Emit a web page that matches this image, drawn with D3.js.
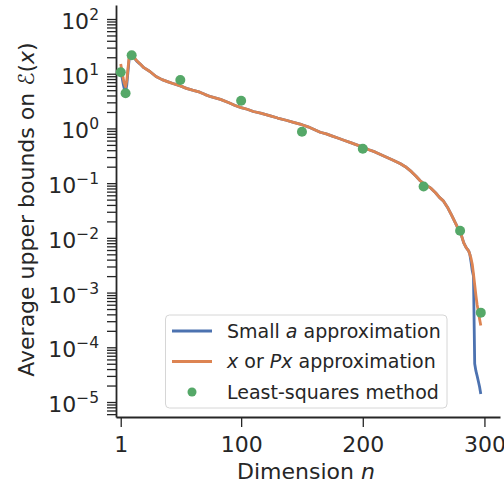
<!DOCTYPE html>
<html>
<head>
<meta charset="utf-8">
<script src="https://cdn.jsdelivr.net/npm/d3@7"></script>
<style>
  body { margin: 0; background: #fff; }
  svg { display: block; font-family: 'DejaVu Sans', sans-serif; }
</style>
</head>
<body>
<main></main>
<script>
// dimensions n where the two approximations were read off
const dims = [1, 2, 3, 4, 5, 6, 7, 8, 9, 10, 12, 14, 17, 20, 25, 30, 35, 40, 45, 50,
  55, 60, 66, 70, 75, 83, 90, 95, 100, 105, 110, 116, 124, 130, 137, 143, 150, 155, 160, 165,
  170, 175, 180, 185, 190, 195, 200, 205, 210, 215, 220, 225, 231, 235, 240, 244, 247, 250, 253, 256,
  260, 263, 266, 270, 273, 276, 279, 281, 283, 285, 287, 288, 289, 290, 291, 292, 293, 294, 295, 296, 297];

const smallA = [12.0, 8.9, 6.6, 5.2, 4.7, 6.3, 11.2, 19.1, 21.4, 20.9, 19.5, 17.2, 15.0, 12.9, 11.0, 8.9, 7.8, 7.1, 6.5, 6.0,
  5.4, 5.0, 4.6, 4.2, 3.8, 3.4, 2.95, 2.63, 2.40, 2.24, 2.04, 1.91, 1.70, 1.55, 1.41, 1.29, 1.17, 1.07, 0.955, 0.851,
  0.794, 0.724, 0.661, 0.603, 0.550, 0.501, 0.457, 0.407, 0.372, 0.331, 0.295, 0.263, 0.226, 0.200, 0.162, 0.132, 0.112, 0.098, 0.089, 0.081,
  0.066, 0.055, 0.048, 0.035, 0.026, 0.019, 0.0138, 0.0112, 0.0081, 0.0066, 0.0058, 0.0050, 0.0036, 0.0025, 0.0020, 5.0e-5, 3.7e-5, 3.0e-5, 2.4e-5, 1.9e-5, 1.4e-5];

const xOrPx = [15.1, 11.2, 8.3, 6.6, 5.8, 7.6, 12.6, 20.9, 23.4, 22.4, 20.0, 17.4, 15.1, 12.9, 11.0, 8.9, 7.8, 7.1, 6.5, 6.0,
  5.4, 5.0, 4.6, 4.2, 3.8, 3.4, 2.95, 2.63, 2.40, 2.24, 2.04, 1.91, 1.70, 1.55, 1.41, 1.29, 1.17, 1.07, 0.955, 0.851,
  0.794, 0.724, 0.661, 0.603, 0.550, 0.501, 0.457, 0.407, 0.372, 0.331, 0.295, 0.263, 0.226, 0.200, 0.162, 0.132, 0.112, 0.098, 0.089, 0.081,
  0.066, 0.055, 0.048, 0.035, 0.026, 0.019, 0.0138, 0.0112, 0.0081, 0.0066, 0.0058, 0.0050, 0.0042, 0.0033, 0.0022, 0.0014, 8.9e-4, 6.0e-4, 4.5e-4, 3.3e-4, 2.5e-4];

// least-squares reference points
const lsDims = [1, 5, 10, 50, 100, 150, 200, 250, 280, 297];
const lsValues = [10.6, 4.4, 21.8, 7.7, 3.2, 0.87, 0.425, 0.087, 0.0135, 4.3e-4];

const xTicks = [1, 100, 200, 300];
const yMajor = [-5, -4, -3, -2, -1, 0, 1, 2];

const seriesNames = ['Small a approximation', 'x or Px approximation', 'Least-squares method'];
const colors = ['#4C72B0', '#DD8452', '#55A868'];

const W = 504, H = 487;
const plotLeft = 116, plotRight = 500, plotTop = 5, plotBottom = 417;
const textColor = '#262626';

const x = d3.scaleLinear()
  .domain([-2.88, 312.8])
  .range([plotLeft, plotRight]);

const y = d3.scaleLog()
  .domain([Math.pow(10, -5.274), Math.pow(10, 2.256)])
  .range([plotBottom, plotTop]);

const svg = d3.select('main')
  .append('svg')
  .attr('width', W)
  .attr('height', H);

// minor + major y ticks
const yTickVals = [];
for (let e = -6; e <= 2; e++) {
  for (let k = 1; k <= 9; k++) {
    const v = k * Math.pow(10, e);
    if (v >= y.domain()[0] && v <= y.domain()[1]) yTickVals.push(v);
  }
}

const yAxis = d3.axisLeft(y)
  .tickValues(yTickVals)
  .tickSize(9)
  .tickSizeOuter(0)
  .tickPadding(8)
  .tickFormat(() => '');

const gy = svg.append('g')
  .attr('transform', `translate(${plotLeft},0)`)
  .call(yAxis);

gy.select('.domain').attr('stroke', textColor).attr('stroke-width', 1.8);
gy.selectAll('.tick line').attr('stroke', textColor).attr('stroke-width', 1.3);
gy.selectAll('.tick text').remove();

// y tick labels with exponents
const yLabels = svg.append('g')
  .selectAll('text')
  .data(yMajor)
  .enter()
  .append('text')
  .attr('x', 99)
  .attr('y', d => y(Math.pow(10, d)) + 10)
  .attr('text-anchor', 'end')
  .style('font-size', '22px')
  .style('fill', textColor);

yLabels.append('tspan').text('10');
yLabels.append('tspan')
  .attr('dy', -9)
  .style('font-size', '15.5px')
  .text(d => d < 0 ? '\u2212' + Math.abs(d) : String(d));

// x axis
const xAxis = d3.axisBottom(x)
  .tickValues(xTicks)
  .tickSize(10)
  .tickSizeOuter(0)
  .tickPadding(5);

const gx = svg.append('g')
  .attr('transform', `translate(0,${plotBottom})`)
  .call(xAxis);

gx.select('.domain').attr('stroke', textColor).attr('stroke-width', 1.8);
gx.selectAll('.tick line').attr('stroke', textColor).attr('stroke-width', 1.3);
gx.selectAll('.tick text')
  .attr('y', 35)
  .attr('dy', 0)
  .style('font-size', '22px')
  .style('font-family', "'DejaVu Sans', sans-serif")
  .style('fill', textColor);

// axis titles
svg.append('text')
  .attr('x', 306)
  .attr('y', 479)
  .attr('text-anchor', 'middle')
  .style('font-size', '22px')
  .style('fill', textColor)
  .call(t => {
    t.append('tspan').text('Dimension ');
    t.append('tspan').style('font-style', 'italic').text('n');
  });

svg.append('text')
  .attr('transform', 'translate(34,209.5) rotate(-90)')
  .attr('text-anchor', 'middle')
  .style('font-size', '22px')
  .style('fill', textColor)
  .call(t => {
    t.append('tspan').text('Average upper bounds on \u2130(');
    t.append('tspan').style('font-style', 'italic').text('x');
    t.append('tspan').text(')');
  });

// lines
const line = d3.line()
  .x(d => x(d[0]))
  .y(d => y(d[1]));

[smallA, xOrPx].forEach((vals, i) => {
  svg.append('path')
    .datum(dims.map((n, j) => [n, vals[j]]))
    .attr('d', line)
    .attr('fill', 'none')
    .attr('stroke', colors[i])
    .attr('stroke-width', 2.8)
    .attr('stroke-linejoin', 'round');
});

// least-squares points
svg.append('g')
  .selectAll('circle')
  .data(lsDims.map((n, j) => [n, lsValues[j]]))
  .enter()
  .append('circle')
  .attr('cx', d => x(d[0]))
  .attr('cy', d => y(d[1]))
  .attr('r', 5)
  .attr('fill', colors[2]);

// legend
const legend = svg.append('g')
  .attr('transform', 'translate(165.5,315)');

legend.append('rect')
  .attr('width', 281.5)
  .attr('height', 93)
  .attr('rx', 4)
  .attr('fill', 'white')
  .attr('fill-opacity', 0.8)
  .attr('stroke', '#d6d6d6')
  .attr('stroke-width', 1);

const rows = legend.selectAll('.row')
  .data(seriesNames)
  .enter()
  .append('g')
  .attr('class', 'row')
  .attr('transform', (d, i) => `translate(0,${16 + i * 30.5})`);

rows.each(function (d, i) {
  const g = d3.select(this);
  if (i < 2) {
    g.append('line')
      .attr('x1', 6.5).attr('x2', 46.5)
      .attr('stroke', colors[i])
      .attr('stroke-width', 2.8);
  } else {
    g.append('circle')
      .attr('cx', 26.5)
      .attr('r', 4.5)
      .attr('fill', colors[2]);
  }
  const t = g.append('text')
    .attr('x', 61.5)
    .attr('y', 6.5)
    .style('font-size', '19px')
    .style('fill', textColor);
  if (i === 0) {
    t.append('tspan').text('Small ');
    t.append('tspan').style('font-style', 'italic').text('a');
    t.append('tspan').text(' approximation');
  } else if (i === 1) {
    t.append('tspan').style('font-style', 'italic').text('x');
    t.append('tspan').text(' or ');
    t.append('tspan').style('font-style', 'italic').text('Px');
    t.append('tspan').text(' approximation');
  } else {
    t.text(d);
  }
});
</script>
</body>
</html>
